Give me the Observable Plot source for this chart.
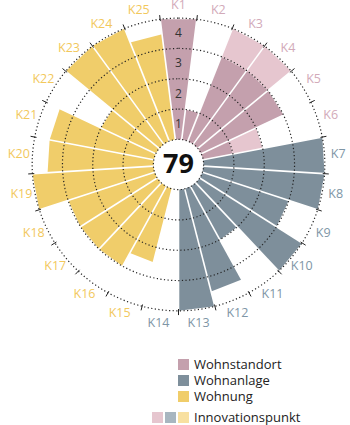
<!DOCTYPE html>
<html><head><meta charset="utf-8">
<script src="https://cdn.jsdelivr.net/npm/d3@7"></script>
<script src="https://cdn.jsdelivr.net/npm/@observablehq/plot@0.6"></script>
<style>
body{margin:0;background:#fff;font-family:"Open Sans",sans-serif;}
#wrap{position:relative;width:350px;height:425px;overflow:hidden;}
.row{position:absolute;height:14px;line-height:14px;display:flex;align-items:center;font-size:13px;color:#222;white-space:nowrap;}
.sw{width:11px;height:11px;margin-right:5px;flex:none;}
</style></head><body>
<div id="wrap"><div id="chart"></div><div id="legend"></div></div>
<script>
// ---- data ----
const categories = ["K1","K2","K3","K4","K5","K6","K7","K8","K9","K10","K11","K12","K13","K14","K15","K16","K17","K18","K19","K20","K21","K22","K23","K24","K25"];
const categoryGroups = ["Wohnstandort","Wohnstandort","Wohnstandort","Wohnstandort","Wohnstandort","Wohnstandort",
  "Wohnanlage","Wohnanlage","Wohnanlage","Wohnanlage","Wohnanlage","Wohnanlage","Wohnanlage","Wohnanlage",
  "Wohnung","Wohnung","Wohnung","Wohnung","Wohnung","Wohnung","Wohnung","Wohnung","Wohnung","Wohnung","Wohnung"];
const baseValues = [4,1,3,3,3,1, 4,4,3,4,2,3.5,4,0, 2.5,3,3,3,4,3.5,3.5,2,4,4,3.5];
const innovationValues = [0,0,1,1,0,1, 0,0,0,0,0,0,0,0, 0,0,0,0,0,0,0,0,0,0,0];
const ringValues = [1,2,3,4];
const totalScore = "79";
const groupNames = ["Wohnstandort","Wohnanlage","Wohnung"];
const groupColors = ["#c4a0ad","#7e8f9b","#f0cd6a"];
const innovationColors = ["#e6c6cf","#a8b6c0","#f8e0a0"];
const labelColors = ["#d2aab9","#7e96a6","#f2c85c"];
const innovationLabel = "Innovationspunkt";

// ---- geometry helpers (value space) ----
const U = 30.3, W = 350, H = 340, CX = 178, CY = 164;
const hole = 0.83;
const n = categories.length, step = 2 * Math.PI / n;
const pol = (r, a) => ({x: r * Math.sin(a), y: r * Math.cos(a)});
const gi = g => groupNames.indexOf(g);

const polys = [];
categories.forEach((c, i) => {
  const a0 = (i - 0.5) * step, a1 = (i + 0.5) * step;
  const segs = [
    {v0: 0, v1: baseValues[i], color: groupColors[gi(categoryGroups[i])]},
    {v0: baseValues[i], v1: baseValues[i] + innovationValues[i], color: innovationColors[gi(categoryGroups[i])]}
  ];
  segs.forEach((s, k) => {
    if (s.v1 <= s.v0) return;
    const id = c + "-" + k;
    const ri = hole + s.v0, ro = hole + s.v1;
    [[ri, a0], [ro, a0], [ro, a1], [ri, a1]].forEach(([r, a]) => polys.push({id, color: s.color, ...pol(r, a)}));
  });
});

const rings = [];
[0, ...ringValues].forEach(v => {
  for (let k = 0; k < 240; k++) rings.push({ring: v, ...pol(hole + v, k / 240 * 2 * Math.PI)});
});

const bounds = categories.map((c, i) => {
  const a = (i - 0.5) * step;
  const p0 = pol(hole, a), p1 = pol(hole + 4.1, a);
  const t0 = pol(hole + 4 - 0.06, a), t1 = pol(hole + 4 + 0.14, a);
  return {x1: p0.x, y1: p0.y, x2: p1.x, y2: p1.y, tx1: t0.x, ty1: t0.y, tx2: t1.x, ty2: t1.y};
});

const labels = categories.map((c, i) => ({c, color: labelColors[gi(categoryGroups[i])], ...pol(hole + 4.45, i * step)}));
const ringLabels = ringValues.map(v => ({t: String(v), x: 0, y: hole + v - 0.5}));

const chart = Plot.plot({
  width: W, height: H, margin: 0,
  style: {fontFamily: "'Open Sans', sans-serif", background: "#fff"},
  x: {domain: [-CX / U, (W - CX) / U], range: [0, W], axis: null},
  y: {domain: [-(H - CY) / U, CY / U], range: [H, 0], axis: null},
  marks: [
    Plot.line(polys, {x: "x", y: "y", z: "id", fill: "color", stroke: "none", curve: "linear-closed"}),
    Plot.link(bounds, {x1: "x1", y1: "y1", x2: "x2", y2: "y2", stroke: "#fff", strokeWidth: 1.6}),
    Plot.line(rings, {x: "x", y: "y", z: "ring", stroke: "#222", strokeWidth: 1.2, strokeDasharray: "1.2,2.4", strokeLinecap: "butt", curve: "linear-closed"}),
    Plot.link(bounds, {x1: "tx1", y1: "ty1", x2: "tx2", y2: "ty2", stroke: "#222", strokeWidth: 1}),
    Plot.text(labels, {x: "x", y: "y", text: "c", fill: "color", fontSize: 12.5}),
    Plot.text(ringLabels, {x: "x", y: "y", text: "t", fill: "#333", fontSize: 12}),
    Plot.text([totalScore], {x: 0, y: 0, text: d => d, fontSize: 27, fontWeight: "bold", fill: "#111"})
  ]
});
document.getElementById("chart").append(chart);

// ---- legend ----
const legend = document.getElementById("legend");
const rowTops = [357, 373, 389];
groupNames.forEach((g, i) => {
  const r = document.createElement("div");
  r.className = "row"; r.style.left = "178px"; r.style.top = rowTops[i] + "px";
  r.innerHTML = `<span class="sw" style="background:${groupColors[i]}"></span><span>${g}</span>`;
  legend.append(r);
});
const ir = document.createElement("div");
ir.className = "row"; ir.style.left = "152px"; ir.style.top = "410px";
ir.innerHTML = innovationColors.map((c, i) => `<span class="sw" style="background:${c};margin-right:${i < 2 ? 2 : 5}px"></span>`).join("") + `<span>${innovationLabel}</span>`;
legend.append(ir);
</script>
</body></html>
